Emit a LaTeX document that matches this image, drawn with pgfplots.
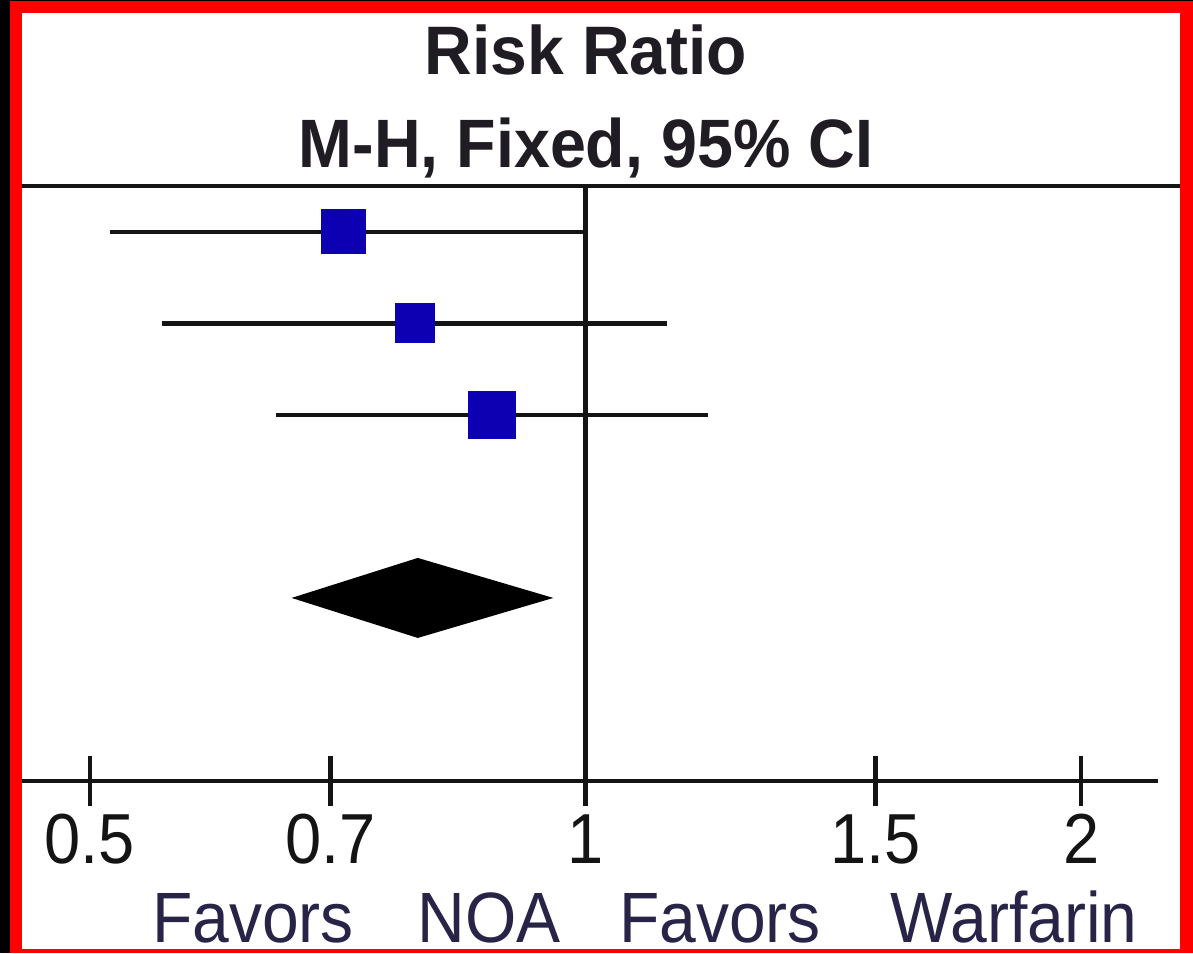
\documentclass[border=0pt]{standalone}
\usepackage{pgfplots}
\pgfplotsset{compat=1.18}
\usepackage{fontspec}
\setmainfont{Liberation Sans}
\definecolor{sqblue}{RGB}{12,0,178}
\definecolor{ttl}{RGB}{32,28,36}
\definecolor{fav}{RGB}{40,36,72}
\definecolor{ln}{RGB}{20,20,20}

\begin{document}
\begin{tikzpicture}
\begin{scope}[x=0.5pt,y=-0.5pt]
\fill[black] (0,0) rectangle (1193,953);
\fill[red] (10,1) rectangle (1193,953);
\fill[white] (22,13) rectangle (1180,949);
\draw[line width=2.2pt, ln] (22,186) -- (1180,186);
\node[anchor=base, font=\fontsize{33}{36}\selectfont\bfseries, text=ttl, inner sep=0pt] at (586,74) {\scalebox{1}[1.04]{Risk Ratio}};
\node[anchor=base, font=\fontsize{32.3}{36}\selectfont\bfseries, text=ttl, inner sep=0pt] at (586,167) {\scalebox{1}[1.06]{M-H, Fixed, 95\% CI}};
\node[anchor=base, font=\fontsize{33}{36}\selectfont, text=fav, inner sep=0pt] at (253,942) {\scalebox{1}[1.08]{Favors}};
\node[anchor=base, font=\fontsize{33}{36}\selectfont, text=fav, inner sep=0pt] at (489,942) {\scalebox{1}[1.08]{NOA}};
\node[anchor=base, font=\fontsize{33}{36}\selectfont, text=fav, inner sep=0pt] at (720,942) {\scalebox{1}[1.08]{Favors}};
\node[anchor=base, font=\fontsize{33}{36}\selectfont, text=fav, inner sep=0pt] at (1014,942) {\scalebox{1}[1.08]{Warfarin}};
\end{scope}

\begin{axis}[
  at={(11pt,-390.5pt)}, anchor=south west,
  scale only axis, width=568pt, height=297.5pt,
  xmode=log, xmin=0.4547, xmax=2.227, ymin=0, ymax=6.5,
  axis x line=bottom, axis y line=none,
  axis line style={-, line width=2.2pt, ln},
  xtick={0.5,0.7,1,1.5,2},
  xticklabels={\scalebox{1}[1.09]{0.5},\scalebox{1}[1.09]{0.7},\scalebox{1}[1.09]{1},\scalebox{1}[1.09]{1.5},\scalebox{1}[1.09]{2}},
  minor xtick={},
  tick align=center, major tick length=25pt,
  every tick/.style={line width=2.2pt, ln},
  xticklabel style={font=\fontsize{32.5}{36}\selectfont, text=black!92, anchor=base, inner sep=0pt, yshift=-28.5pt},
  clip=false,
]
\addplot[line width=2.2pt, ln] coordinates {(1,0) (1,6.5)};
\addplot[line width=2.2pt, ln] coordinates {(0.514,6) (1.00,6)};
\addplot[line width=2.2pt, ln] coordinates {(0.553,5) (1.121,5)};
\addplot[line width=2.2pt, ln] coordinates {(0.649,4) (1.187,4)};
\addplot[only marks, mark=square*, mark size=11pt, mark options={fill=sqblue, draw=sqblue, line width=0.5pt}] coordinates {(0.713,6)};
\addplot[only marks, mark=square*, mark size=9.75pt, mark options={fill=sqblue, draw=sqblue, line width=0.5pt}] coordinates {(0.788,5)};
\addplot[only marks, mark=square*, mark size=11.75pt, mark options={fill=sqblue, draw=sqblue, line width=0.5pt}] coordinates {(0.877,4)};
\addplot[fill=black, draw=none] coordinates {(0.663,2) (0.791,2.437) (0.956,2) (0.791,1.563)} -- cycle;
\end{axis}

\begin{scope}[x=0.5pt,y=-0.5pt]
\pgfresetboundingbox
\path[use as bounding box] (0,0) rectangle (1193,953);
\end{scope}
\end{tikzpicture}
\end{document}
